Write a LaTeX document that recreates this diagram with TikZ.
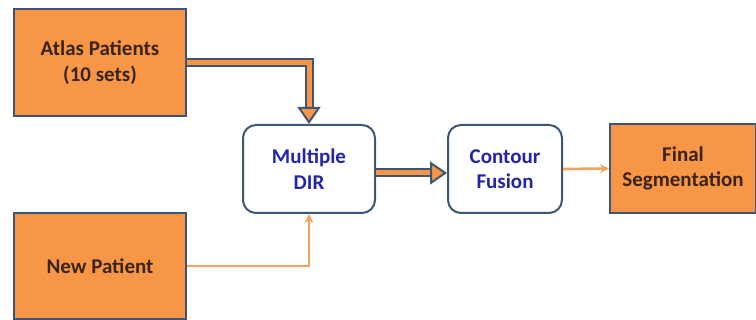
\documentclass[tikz,border=0pt]{standalone}
\usepackage{fontspec}
\setmainfont{Carlito}
\usetikzlibrary{arrows.meta}
\definecolor{boxorange}{HTML}{F79646}
\definecolor{lineorange}{HTML}{F5A35C}
\definecolor{edge}{HTML}{3E5675}
\definecolor{darktext}{HTML}{3A2418}
\definecolor{bluetext}{HTML}{2424A8}
\tikzset{
  txt/.style={font=\fontsize{21}{25.5}\selectfont\bfseries, align=center, inner sep=0pt},
  obox/.style={txt, draw=edge, line width=2pt, fill=boxorange, text=darktext},
  wbox/.style={txt, draw=edge, line width=2pt, fill=white, rounded corners=13pt, text=bluetext},
  thick arrow/.style={draw=edge, line width=2pt, double=boxorange, double distance=5pt, line join=miter,
    -{Triangle[length=17pt,width=23pt,fill=boxorange,line width=2pt]}},
  thin arrow/.style={draw=lineorange, line width=2.6pt, -{Stealth[length=9pt,width=9pt]}}
}
\begin{document}
\begin{tikzpicture}[x=1pt,y=-1pt]
\useasboundingbox (0,0) rectangle (756,320);
\clip (0,0) rectangle (756,320);
\node[obox, minimum width=172pt, minimum height=107pt] (atlas) at (100,62.5) {Atlas Patients\\(10 sets)};
\node[obox, minimum width=172pt, minimum height=106pt] (newp) at (100,266) {New Patient};
\node[wbox, minimum width=132pt, minimum height=88pt] (dir) at (309,169) {Multiple\\DIR};
\node[wbox, minimum width=114pt, minimum height=88pt] (fusion) at (505,169) {Contour\\Fusion};
\node[obox, minimum width=146pt, minimum height=89pt] (final) at (683,168.5) {Final\\Segmentation};
\draw[thick arrow] (atlas.east) -| (dir.north);
\draw[thick arrow] ([yshift=-4pt]dir.east) -- ([yshift=-4pt]fusion.west);
\draw[thin arrow] (newp.east) -| (dir.south);
\draw[thin arrow] (fusion.east) -- (final.west);
\end{tikzpicture}
\end{document}
